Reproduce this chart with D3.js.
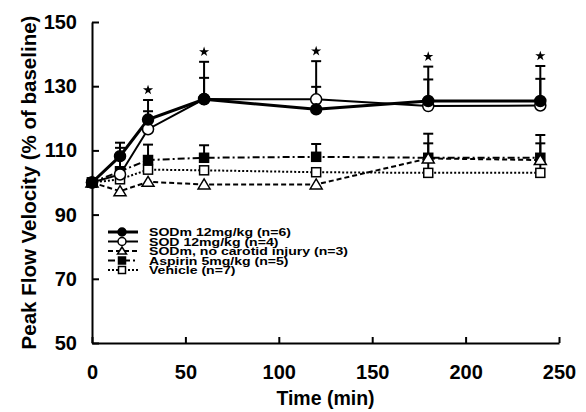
<!DOCTYPE html>
<html>
<head>
<meta charset="utf-8">
<script src="https://cdn.jsdelivr.net/npm/d3@7"></script>
<style>
  body { margin: 0; background: #fff; }
  svg { display: block; font-family: Arial, "Liberation Sans", Helvetica, sans-serif; font-weight: bold; }
  .axis path, .axis line { stroke: #000; stroke-width: 2; }
  .axis text { font-size: 20px; font-weight: bold; fill: #000; }
</style>
</head>
<body>
<div class="chart-area"></div>
<script>
var times = [0, 15, 30, 60, 120, 180, 240];

var sodm       = [100, 108.2, 119.6, 125.9, 122.8, 125.4, 125.4],
    sod        = [100, 102.5, 116.6, 126.0, 125.9, 123.8, 124.0],
    sodmNoInj  = [100, 97.3, 100.2, 99.4, 99.4, 107.5, 107.0],
    aspirin    = [100, 103.5, 107.0, 107.7, 108.0, 107.7, 107.7],
    vehicle    = [100, 101.0, 104.0, 103.8, 103.2, 103.0, 103.0];

// +SEM
var sodmErr    = [0, 4.2, 6.1, 6.7, 7.0, 6.7, 6.9],
    sodErr     = [0, 8.3, 5.6, 11.6, 11.9, 12.3, 12.3],
    aspirinErr = [0, 0, 4.8, 3.9, 4.0, 7.5, 7.1],
    vehicleErr = [0, 0, 0, 0, 0, 9.2, 9.2],
    noInjErr   = [0, 0, 0, 0, 0, 0, 0];

var starTimes = [30, 60, 120, 180, 240];

var xTicks = [0, 50, 100, 150, 200, 250],
    yTicks = [50, 70, 90, 110, 130, 150];

var seriesNames = [
  "SODm 12mg/kg (n=6)",
  "SOD 12mg/kg (n=4)",
  "SODm, no carotid injury (n=3)",
  "Aspirin 5mg/kg (n=5)",
  "Vehicle (n=7)"
];

var width = 586, height = 412;

var x = d3.scaleLinear().domain([0, 250]).range([92, 559]);
var y = d3.scaleLinear().domain([50, 150]).range([343, 22]);

var svg = d3.select(".chart-area")
            .append("svg")
            .attr("width", width)
            .attr("height", height);

var series = [
  { name: seriesNames[0], vals: sodm,      err: sodmErr,    marker: "circle",   fill: "#000", dash: null,        lw: 3 },
  { name: seriesNames[1], vals: sod,       err: sodErr,     marker: "circle",   fill: "#fff", dash: null,        lw: 2 },
  { name: seriesNames[2], vals: sodmNoInj, err: noInjErr,   marker: "triangle", fill: "#fff", dash: "5,3",       lw: 2 },
  { name: seriesNames[3], vals: aspirin,   err: aspirinErr, marker: "square",   fill: "#000", dash: "7,3,2,3",   lw: 2 },
  { name: seriesNames[4], vals: vehicle,   err: vehicleErr, marker: "square",   fill: "#fff", dash: "2,2",       lw: 2 }
];

// axes
svg.append("g")
   .attr("class", "axis")
   .attr("transform", "translate(0," + y(50) + ")")
   .call(d3.axisBottom(x).tickValues(xTicks).tickSize(-6).tickPadding(22).tickSizeOuter(0))
   .selectAll("text").attr("dy", "0.71em");

svg.append("g")
   .attr("class", "axis")
   .attr("transform", "translate(" + x(0) + ",0)")
   .call(d3.axisLeft(y).tickValues(yTicks).tickSize(-7).tickPadding(15).tickSizeOuter(0));

// axis titles
svg.append("text")
   .attr("x", (x(0) + x(250)) / 2)
   .attr("y", 405)
   .attr("text-anchor", "middle")
   .style("font-size", "19.5px")
   .text("Time (min)");

svg.append("text")
   .attr("transform", "translate(36," + (y(50) + y(150)) / 2 + ") rotate(-90)")
   .attr("text-anchor", "middle")
   .style("font-size", "20.5px")
   .text("Peak Flow Velocity (% of baseline)");

function drawMarker(g, type, fill, r) {
  if (type === "circle") {
    g.append("circle").attr("r", r).attr("fill", fill).attr("stroke", "#000").attr("stroke-width", 1.5);
  } else if (type === "square") {
    g.append("rect").attr("x", -r + 0.5).attr("y", -r + 0.5).attr("width", 2 * r - 1).attr("height", 2 * r - 1)
     .attr("fill", fill).attr("stroke", "#000").attr("stroke-width", 1.5);
  } else {
    g.append("path").attr("d", "M0," + (-r) + "L" + (r + 0.5) + "," + (r - 1) + "L" + (-r - 0.5) + "," + (r - 1) + "Z")
     .attr("fill", fill).attr("stroke", "#000").attr("stroke-width", 1.5);
  }
}

var line = d3.line()
             .x(function(d, i) { return x(times[i]) })
             .y(function(d) { return y(d) });

// lines (bottom series first)
series.slice().reverse().forEach(function(s) {
  svg.append("path")
     .attr("d", line(s.vals))
     .attr("fill", "none")
     .attr("stroke", "#000")
     .attr("stroke-width", s.lw)
     .attr("stroke-dasharray", s.dash);
});

// error bars
series.forEach(function(s) {
  s.vals.forEach(function(v, i) {
    if (!s.err[i]) return;
    var cx = x(times[i]), top = y(v + s.err[i]);
    svg.append("line").attr("x1", cx).attr("x2", cx).attr("y1", y(v)).attr("y2", top)
       .attr("stroke", "#000").attr("stroke-width", 2);
    svg.append("line").attr("x1", cx - 5).attr("x2", cx + 5).attr("y1", top).attr("y2", top)
       .attr("stroke", "#000").attr("stroke-width", 2);
  });
});

// markers
series.slice().reverse().forEach(function(s) {
  s.vals.forEach(function(v, i) {
    var g = svg.append("g").attr("transform", "translate(" + x(times[i]) + "," + y(v) + ")");
    drawMarker(g, s.marker, s.fill, s.marker === "square" ? 5 : 5.5);
  });
});

// significance stars above the highest cap
starTimes.forEach(function(t) {
  var i = times.indexOf(t);
  var top = d3.max(series, function(s) { return s.vals[i] + s.err[i] });
  svg.append("path")
     .attr("d", d3.symbol().type(d3.symbolStar).size(32)())
     .attr("transform", "translate(" + x(t) + "," + (y(top) - 10) + ")")
     .attr("fill", "#000");
});

// legend
var legend = svg.append("g").attr("transform", "translate(108,232)");
series.forEach(function(s, i) {
  var row = legend.append("g").attr("transform", "translate(0," + i * 9.5 + ")");
  row.append("line").attr("x1", 0).attr("x2", 30).attr("y1", 0).attr("y2", 0)
     .attr("stroke", "#000").attr("stroke-width", s.lw).attr("stroke-dasharray", s.dash);
  var m = row.append("g").attr("transform", "translate(14,0)");
  drawMarker(m, s.marker, s.fill, 4);
  row.append("text")
     .attr("transform", "translate(41,4) scale(1.28,1)")
     .style("font-size", "11px")
     .text(s.name);
});
</script>
</body>
</html>
